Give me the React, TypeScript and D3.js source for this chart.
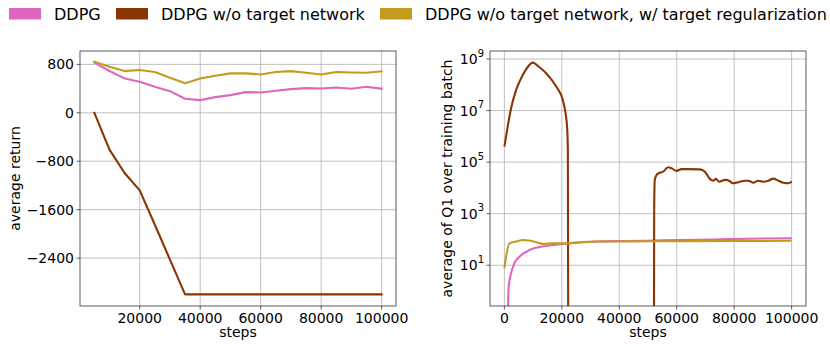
import React from "react";
import * as d3 from "d3";

// ---------- data ----------
const seriesNames = [
  "DDPG",
  "DDPG w/o target network",
  "DDPG w/o target network, w/ target regularization",
];
const seriesColors = ["#df66bf", "#8b3504", "#c29b1f"];

// left panel: average return
const returnSteps = [5000, 10000, 15000, 20000, 25000, 30000, 35000, 40000, 45000, 50000,
  55000, 60000, 65000, 70000, 75000, 80000, 85000, 90000, 95000, 100000];
const returnDDPG = [828, 690, 568, 513, 430, 358, 232, 209, 259, 292, 342, 336, 364, 391, 408, 402, 419, 397, 430, 397];
const returnNoTarget = [0, -608, -994, -1281, -1850, -2425, -3000, -3000, -3000, -3000,
  -3000, -3000, -3000, -3000, -3000, -3000, -3000, -3000, -3000, -3000];
const returnTargetReg = [845, 762, 689, 706, 673, 580, 490, 568, 613, 651, 651, 634, 673, 689, 662, 634, 673, 667, 662, 684];

const returnTicksY = [800, 0, -800, -1600, -2400];
const returnTicksX = [20000, 40000, 60000, 80000, 100000];

// right panel: average Q1 (log10 of value)
const qStepsDDPG = [1100, 1500, 2340, 3490, 5240, 8730, 14550, 20350, 26000, 32000, 40000, 49460, 60000, 72700, 85000, 100000];
const qLogDDPG = [-2, 0.17, 0.69, 1.08, 1.33, 1.59, 1.75, 1.83, 1.88, 1.92, 1.94, 1.95, 1.98, 2.0, 2.03, 2.05];

const qStepsNoTarget1 = [0, 1150, 2340, 4100, 6400, 8200, 9900, 12000, 14550, 18050, 20350, 21300, 21900, 22100, 22250];
const qLogNoTarget1 = [5.6, 6.37, 7.09, 7.8, 8.38, 8.7, 8.86, 8.7, 8.45, 7.93, 7.41, 6.9, 6.25, 5.47, -3];
const qStepsNoTarget2 = [52050, 52150, 52250, 52360, 52950, 54100, 55250, 57000, 58180, 59930, 61680, 63420, 68060,
  69810, 71550, 72700, 73650, 74800, 76790, 78530, 79480, 81430, 83770, 84920, 86670, 88410, 90160, 91900,
  93650, 95390, 97140, 98880, 100070];
const qLogNoTarget2 = [-3, 3.0, 4.0, 4.31, 4.5, 4.59, 4.63, 4.8, 4.76, 4.66, 4.73, 4.73, 4.72,
  4.63, 4.35, 4.28, 4.35, 4.24, 4.31, 4.26, 4.18, 4.22, 4.28, 4.28, 4.2, 4.28, 4.24, 4.28,
  4.36, 4.28, 4.2, 4.18, 4.24];

const qStepsTargetReg = [0, 1750, 4080, 6390, 8130, 9880, 11500, 13370, 16860, 21540, 26000, 30820, 40000, 49460, 60000, 72700, 85000, 100000];
const qLogTargetReg = [0.88, 1.85, 1.92, 1.98, 1.96, 1.93, 1.88, 1.83, 1.85, 1.85, 1.89, 1.92, 1.92, 1.93, 1.93, 1.94, 1.94, 1.95];

const qTickExps = [1, 3, 5, 7, 9];
const qTicksX = [0, 20000, 40000, 60000, 80000, 100000];

// ---------- layout ----------
const W = 830;
const H = 347;
const FONT = "DejaVu Sans, sans-serif";
const L = { left: 80, right: 396, top: 51, bottom: 306 };
const R = { left: 490, right: 806, top: 51, bottom: 306 };

function fmt(n: number) {
  return n < 0 ? "\u2212" + Math.abs(n) : String(n);
}

export default function App() {
  const lx = d3.scaleLinear().domain([250, 104750]).range([L.left, L.right]);
  const ly = d3.scaleLinear().domain([-3191.5, 1021]).range([L.bottom, L.top]);
  const rx = d3.scaleLinear().domain([-5000, 105000]).range([R.left, R.right]);
  const ry = d3.scaleLog().domain([Math.pow(10, -0.58), Math.pow(10, 9.31)]).range([R.bottom, R.top]);

  const leftLine = (vals: number[]) =>
    d3.line<number>().x((_, i) => lx(returnSteps[i])).y((v) => ly(v))(vals) || "";
  const rightLine = (xs: number[], logs: number[]) =>
    d3.line<number>().x((_, i) => rx(xs[i])).y((v) => ry(Math.pow(10, v))).curve(d3.curveMonotoneX)(logs) || "";

  const grid = "#b0b0b0";
  const lw = 2.1;

  return (
    <svg width={W} height={H} style={{ position: "absolute", left: 0, top: 0 }} fontFamily={FONT}>
      <rect width={W} height={H} fill="white" />
      <defs>
        <clipPath id="clipL"><rect x={L.left} y={L.top} width={L.right - L.left} height={L.bottom - L.top} /></clipPath>
        <clipPath id="clipR"><rect x={R.left} y={R.top} width={R.right - R.left} height={R.bottom - R.top} /></clipPath>
      </defs>

      {/* legend */}
      {(() => {
        const xs = [9, 116, 380];
        return seriesNames.map((n, i) => (
          <g key={n}>
            <rect x={xs[i]} y={8} width={32} height={11.5} fill={seriesColors[i]} />
            <text x={xs[i] + 45} y={20} fontSize={16} fill="#000">{n}</text>
          </g>
        ));
      })()}

      {/* ---------- left panel ---------- */}
      <g>
        {returnTicksX.map((t) => (
          <line key={"gx" + t} x1={lx(t)} x2={lx(t)} y1={L.top} y2={L.bottom} stroke={grid} strokeWidth={0.8} />
        ))}
        {returnTicksY.map((t) => (
          <line key={"gy" + t} x1={L.left} x2={L.right} y1={ly(t)} y2={ly(t)} stroke={grid} strokeWidth={0.8} />
        ))}
        <g clipPath="url(#clipL)" fill="none" strokeWidth={lw} strokeLinejoin="round" strokeLinecap="square">
          <path d={leftLine(returnDDPG)} stroke={seriesColors[0]} />
          <path d={leftLine(returnNoTarget)} stroke={seriesColors[1]} />
          <path d={leftLine(returnTargetReg)} stroke={seriesColors[2]} />
        </g>
        <rect x={L.left} y={L.top} width={L.right - L.left} height={L.bottom - L.top} fill="none" stroke="#333" strokeWidth={0.8} />
        {returnTicksX.map((t) => (
          <g key={"tx" + t}>
            <line x1={lx(t)} x2={lx(t)} y1={L.bottom} y2={L.bottom + 3.5} stroke="#333" strokeWidth={0.8} />
            <text x={lx(t)} y={323} fontSize={14} textAnchor="middle">{t}</text>
          </g>
        ))}
        {returnTicksY.map((t) => (
          <g key={"ty" + t}>
            <line x1={L.left - 3.5} x2={L.left} y1={ly(t)} y2={ly(t)} stroke="#333" strokeWidth={0.8} />
            <text x={L.left - 6} y={ly(t)} dy="0.36em" fontSize={14} textAnchor="end">{fmt(t)}</text>
          </g>
        ))}
        <text x={(L.left + L.right) / 2} y={337} fontSize={14} textAnchor="middle">steps</text>
        <text transform={`translate(19.5,${(L.top + L.bottom) / 2}) rotate(-90)`} fontSize={14} textAnchor="middle">average return</text>
      </g>

      {/* ---------- right panel ---------- */}
      <g>
        {qTicksX.map((t) => (
          <line key={"rgx" + t} x1={rx(t)} x2={rx(t)} y1={R.top} y2={R.bottom} stroke={grid} strokeWidth={0.8} />
        ))}
        {qTickExps.map((e) => (
          <line key={"rgy" + e} x1={R.left} x2={R.right} y1={ry(Math.pow(10, e))} y2={ry(Math.pow(10, e))} stroke={grid} strokeWidth={0.8} />
        ))}
        <g clipPath="url(#clipR)" fill="none" strokeWidth={lw} strokeLinejoin="round">
          <path d={rightLine(qStepsDDPG, qLogDDPG)} stroke={seriesColors[0]} />
          <path d={rightLine(qStepsNoTarget1, qLogNoTarget1)} stroke={seriesColors[1]} />
          <path d={rightLine(qStepsNoTarget2, qLogNoTarget2)} stroke={seriesColors[1]} />
          <path d={rightLine(qStepsTargetReg, qLogTargetReg)} stroke={seriesColors[2]} />
        </g>
        <rect x={R.left} y={R.top} width={R.right - R.left} height={R.bottom - R.top} fill="none" stroke="#333" strokeWidth={0.8} />
        {qTicksX.map((t) => (
          <g key={"rtx" + t}>
            <line x1={rx(t)} x2={rx(t)} y1={R.bottom} y2={R.bottom + 3.5} stroke="#333" strokeWidth={0.8} />
            <text x={rx(t)} y={323} fontSize={14} textAnchor="middle">{t}</text>
          </g>
        ))}
        {qTickExps.map((e) => (
          <g key={"rty" + e}>
            <line x1={R.left - 3.5} x2={R.left} y1={ry(Math.pow(10, e))} y2={ry(Math.pow(10, e))} stroke="#333" strokeWidth={0.8} />
            <text x={R.left - 6} y={ry(Math.pow(10, e))} dy="0.36em" fontSize={14} textAnchor="end">
              10<tspan fontSize={10} dy="-0.75em">{e}</tspan>
            </text>
          </g>
        ))}
        <text x={(R.left + R.right) / 2} y={337} fontSize={14} textAnchor="middle">steps</text>
        <text transform={`translate(451.7,${(R.top + R.bottom) / 2}) rotate(-90)`} fontSize={14} textAnchor="middle">average of Q1 over training batch</text>
      </g>
    </svg>
  );
}
